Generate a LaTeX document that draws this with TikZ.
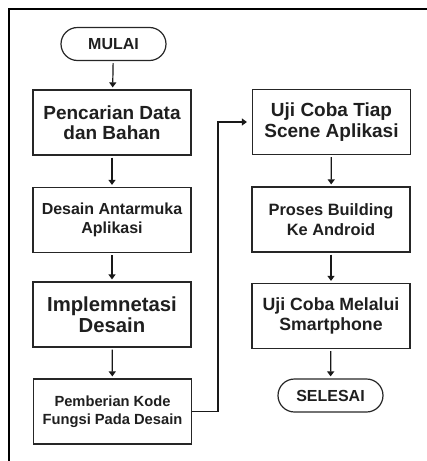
\documentclass[tikz,border=0pt]{standalone}
\usepackage{fontspec}
\setmainfont{Liberation Sans}
\usetikzlibrary{arrows.meta,shapes.misc}
\begin{document}
\begin{tikzpicture}[x=1pt,y=-1pt,
  box/.style={draw=black!85,line width=1.2pt,minimum width=158pt,minimum height=65pt,align=center,inner sep=0pt,text=black!88},
  term/.style={draw=black!85,line width=1.2pt,rounded rectangle,minimum width=105pt,minimum height=33pt,inner sep=0pt,text=black!88,font=\bfseries\fontsize{16}{18}\selectfont},
  flow/.style={draw=black!90,line width=1.2pt,-{Triangle[width=7pt,length=5pt]},shorten >=2pt,shorten <=2pt}]
\useasboundingbox (0,0) rectangle (427,461);
\draw[line width=2.5pt] (9,461) -- (9,9) -- (430,9);
\node[term] (mulai) at (113.5,44) {MULAI};
\node[box,font=\bfseries\fontsize{19}{20}\selectfont] (b1) at (112,122.5) {Pencarian Data\\dan Bahan};
\node[box,font=\bfseries\fontsize{16}{18.5}\selectfont] (b2) at (112,220) {Desain Antarmuka\\Aplikasi};
\node[box,font=\bfseries\fontsize{20.3}{21.5}\selectfont] (b3) at (112,314.5) {Implemnetasi\\Desain};
\node[box,font=\bfseries\fontsize{14.7}{17.5}\selectfont] (b4) at (112.5,411.5) {Pemberian Kode\\Fungsi Pada Desain};
\node[box,font=\bfseries\fontsize{19}{21}\selectfont] (b5) at (331.5,122) {Uji Coba Tiap\\Scene Aplikasi};
\node[box,font=\bfseries\fontsize{16.4}{20}\selectfont] (b6) at (331,219.5) {Proses Building\\Ke Android};
\node[box,font=\bfseries\fontsize{17.7}{20.5}\selectfont] (b7) at (331,316) {Uji Coba Melalui\\Smartphone};
\node[term] (selesai) at (330.5,395.5) {SELESAI};
\draw[flow] (mulai) -- (b1);
\draw[flow] (b1) -- (b2);
\draw[flow] (b2) -- (b3);
\draw[flow] (b3) -- (b4);
\draw[flow] (b5) -- (b6);
\draw[flow] (b6) -- (b7);
\draw[flow] (b7) -- (selesai);
\coordinate (elbow) at (218,122);
\draw[flow,shorten <=0pt,shorten >=5pt] (b4.east) -- (b4.east -| elbow) -- (elbow) -- (b5.west);
\end{tikzpicture}
\end{document}
